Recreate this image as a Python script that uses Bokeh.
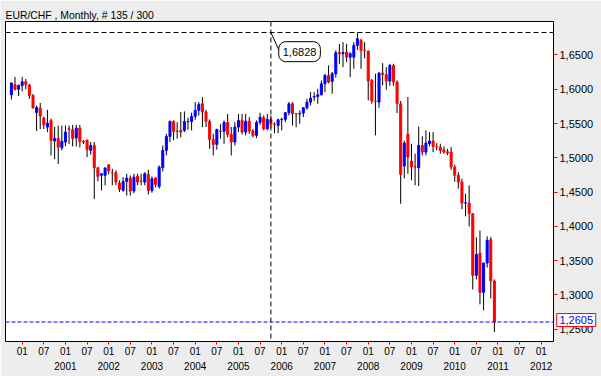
import pandas as pd
from bokeh.plotting import figure
from bokeh.models import (ColumnDataSource, LinearAxis, FixedTicker, CustomJSTickFormatter,
                          Span, Label, Range1d)
from bokeh.core.properties import value
from bokeh.embed import file_html
from bokeh.resources import INLINE

# ---------------- data ----------------
symbol_title = "EUR/CHF , Monthly, # 135 / 300"
start_month = "1999-10"

opens = [1.5920, 1.6070, 1.6000,
         1.6055, 1.6110, 1.6060, 1.5910, 1.5660, 1.5725, 1.5580, 1.5448, 1.5545, 1.5244, 1.5280, 1.5147,
         1.5230, 1.5425, 1.5410, 1.5290, 1.5433, 1.5240, 1.5254, 1.5110, 1.5180, 1.4855, 1.4744, 1.4744,
         1.4899, 1.4785, 1.4782, 1.4632, 1.4525, 1.4656, 1.4704, 1.4515, 1.4729, 1.4660, 1.4646, 1.4758,
         1.4525, 1.4704, 1.4583, 1.4855, 1.5108, 1.5312, 1.5531, 1.5390, 1.5400, 1.5400, 1.5525, 1.5531,
         1.5604, 1.5691, 1.5788, 1.5667, 1.5531, 1.5268, 1.5195, 1.5390, 1.5385, 1.5516, 1.5340, 1.5230,
         1.5448, 1.5545, 1.5375, 1.5530, 1.5390, 1.5327, 1.5516, 1.5584, 1.5424, 1.5560, 1.5490, 1.5472,
         1.5555, 1.5560, 1.5657, 1.5788, 1.5648, 1.5640, 1.5652, 1.5730, 1.5812, 1.5885, 1.5895, 1.5920,
         1.6080, 1.6201, 1.6114, 1.6226, 1.6535, 1.6517, 1.6541, 1.6468, 1.6468, 1.6639, 1.6712, 1.6570,
         1.6556, 1.6128, 1.5827, 1.5813, 1.6235, 1.6216, 1.6119, 1.6347, 1.6104, 1.5788, 1.4880, 1.5342,
         1.4953, 1.4870, 1.4855, 1.5181, 1.5084, 1.5205, 1.5244, 1.5170, 1.5157, 1.5118, 1.5090, 1.5084,
         1.4865, 1.4744, 1.4646, 1.4340, 1.4340, 1.4185, 1.3286, 1.3610, 1.3038, 1.3466, 1.3806, 1.3203]

highs = [1.6100, 1.6180, 1.6070,
         1.6180, 1.6150, 1.6080, 1.5930, 1.5760, 1.5800, 1.5600, 1.5700, 1.5570, 1.5450, 1.5470, 1.5470,
         1.5470, 1.5470, 1.5480, 1.5480, 1.5480, 1.5260, 1.5270, 1.5230, 1.5230, 1.4865, 1.4768, 1.4865,
         1.4905, 1.4840, 1.4816, 1.4670, 1.4719, 1.4768, 1.4743, 1.4768, 1.4768, 1.4768, 1.4790, 1.4826,
         1.4729, 1.4719, 1.4889, 1.5180, 1.5350, 1.5545, 1.5545, 1.5520, 1.5667, 1.5677, 1.5584, 1.5657,
         1.5812, 1.5812, 1.5885, 1.5700, 1.5560, 1.5350, 1.5424, 1.5490, 1.5545, 1.5640, 1.5448, 1.5520,
         1.5640, 1.5640, 1.5640, 1.5594, 1.5420, 1.5545, 1.5657, 1.5618, 1.5640, 1.5618, 1.5520, 1.5570,
         1.5584, 1.5670, 1.5812, 1.5812, 1.5652, 1.5690, 1.5740, 1.5860, 1.5958, 1.5958, 1.6007, 1.6128,
         1.6225, 1.6347, 1.6250, 1.6566, 1.6660, 1.6687, 1.6663, 1.6541, 1.6687, 1.6828, 1.6736, 1.6687,
         1.6566, 1.6150, 1.6226, 1.6250, 1.6380, 1.6323, 1.6371, 1.6371, 1.6128, 1.5830, 1.5250, 1.5886,
         1.5205, 1.5060, 1.5458, 1.5312, 1.5400, 1.5375, 1.5375, 1.5215, 1.5205, 1.5166, 1.5130, 1.5157,
         1.4900, 1.4790, 1.4694, 1.4476, 1.4598, 1.4185, 1.3840, 1.3940, 1.3466, 1.3854, 1.3845, 1.3227]

lows = [1.5850, 1.5980, 1.5900,
        1.5970, 1.6000, 1.5860, 1.5715, 1.5390, 1.5420, 1.5420, 1.5375, 1.5035, 1.4980, 1.4910, 1.5110,
        1.5170, 1.5200, 1.5166, 1.5166, 1.5150, 1.5200, 1.5010, 1.5045, 1.4400, 1.4656, 1.4525, 1.4598,
        1.4760, 1.4600, 1.4600, 1.4500, 1.4505, 1.4450, 1.4450, 1.4481, 1.4600, 1.4600, 1.4600, 1.4466,
        1.4490, 1.4570, 1.4550, 1.4800, 1.5035, 1.5230, 1.5255, 1.5280, 1.5300, 1.5375, 1.5410, 1.5400,
        1.5555, 1.5618, 1.5448, 1.5448, 1.5130, 1.5035, 1.5118, 1.5280, 1.5205, 1.5300, 1.5035, 1.5180,
        1.5375, 1.5340, 1.5327, 1.5350, 1.5300, 1.5288, 1.5480, 1.5400, 1.5400, 1.5440, 1.5360, 1.5360,
        1.5400, 1.5520, 1.5618, 1.5470, 1.5448, 1.5497, 1.5594, 1.5700, 1.5764, 1.5827, 1.5788, 1.5910,
        1.5958, 1.6085, 1.5934, 1.6170, 1.6371, 1.6323, 1.6395, 1.6177, 1.6298, 1.6575, 1.6298, 1.6450,
        1.5837, 1.5788, 1.5327, 1.5730, 1.6056, 1.5992, 1.6050, 1.6050, 1.5652, 1.4330, 1.4700, 1.4768,
        1.4671, 1.4600, 1.4588, 1.5035, 1.5035, 1.5166, 1.5084, 1.5110, 1.5060, 1.5060, 1.5040, 1.4826,
        1.4650, 1.4550, 1.4250, 1.4146, 1.4000, 1.3080, 1.3227, 1.2863, 1.2776, 1.3400, 1.2950, 1.2460]

closes = [1.6090, 1.6000, 1.6055,
          1.6110, 1.6070, 1.5910, 1.5730, 1.5735, 1.5610, 1.5480, 1.5506, 1.5254, 1.5283, 1.5157, 1.5240,
          1.5375, 1.5414, 1.5280, 1.5433, 1.5234, 1.5230, 1.5120, 1.5180, 1.4855, 1.4729, 1.4768, 1.4850,
          1.4807, 1.4782, 1.4646, 1.4540, 1.4656, 1.4704, 1.4515, 1.4719, 1.4646, 1.4656, 1.4768, 1.4525,
          1.4695, 1.4612, 1.4865, 1.5108, 1.5312, 1.5531, 1.5385, 1.5385, 1.5375, 1.5531, 1.5531, 1.5604,
          1.5691, 1.5778, 1.5667, 1.5531, 1.5268, 1.5195, 1.5414, 1.5385, 1.5516, 1.5340, 1.5230, 1.5448,
          1.5545, 1.5375, 1.5535, 1.5390, 1.5327, 1.5516, 1.5594, 1.5424, 1.5560, 1.5487, 1.5487, 1.5555,
          1.5560, 1.5657, 1.5788, 1.5643, 1.5643, 1.5648, 1.5730, 1.5812, 1.5870, 1.5895, 1.5920, 1.6080,
          1.6201, 1.6104, 1.6225, 1.6532, 1.6517, 1.6537, 1.6468, 1.6517, 1.6639, 1.6736, 1.6566, 1.6566,
          1.6119, 1.5827, 1.5822, 1.6235, 1.6216, 1.6119, 1.6347, 1.6104, 1.5788, 1.4758, 1.5215, 1.5011,
          1.4865, 1.4865, 1.5181, 1.5084, 1.5215, 1.5244, 1.5166, 1.5166, 1.5108, 1.5084, 1.5070, 1.4865,
          1.4744, 1.4646, 1.4340, 1.4345, 1.4185, 1.3286, 1.3590, 1.3038, 1.3466, 1.3796, 1.3203, 1.2605]

price_ticks = [1.25, 1.30, 1.35, 1.40, 1.45, 1.50, 1.55, 1.60, 1.65]
halfyear_labels = ["01", "07"] * 12 + ["01"]          # Jan 2000 ... Jan 2012
year_labels = ["2001", "2002", "2003", "2004", "2005", "2006",
               "2007", "2008", "2009", "2010", "2011", "2012"]

marker_month = "2005-10"
marker_price = 1.6828
marker_text = "1,6828"
last_price = 1.2605
last_text = "1,2605"

# ---------------- derived ----------------
base_year = 2000
months = pd.period_range(start_month, periods=len(opens), freq="M")
idx = [(p.year - base_year) * 12 + (p.month - 1) for p in months]
tops = [max(o, c) for o, c in zip(opens, closes)]
bottoms = [min(o, c) for o, c in zip(opens, closes)]
colors = ["#0000FF" if c >= o else "#FF0000" for o, c in zip(opens, closes)]

src = ColumnDataSource(dict(x=idx, open=opens, high=highs, low=lows, close=closes,
                            top=tops, bottom=bottoms, color=colors))

mp = pd.Period(marker_month, freq="M")
marker_idx = (mp.year - base_year) * 12 + (mp.month - 1)

FONT = "Liberation Sans"
BG = "#EDEDED"
X_LO, X_HI = -4.63, 147.4

p = figure(width=601, height=376, output_backend="svg", toolbar_location=None,
           x_axis_location=None, y_axis_location=None,
           x_range=Range1d(X_LO, X_HI), y_range=Range1d(1.2321, 1.6988),
           min_border_left=5, min_border_right=48, min_border_top=21, min_border_bottom=35,
           background_fill_color="white", border_fill_color=BG,
           outline_line_color="black", outline_line_width=1)
p.grid.visible = False

p.title.text = symbol_title
p.title.align = "left"
p.title.text_font = FONT
p.title.text_font_size = "10.4px"
p.title.text_font_style = "normal"
p.title.text_color = "black"
p.title.standoff = 2

# price axis (right)
yax = LinearAxis(ticker=FixedTicker(ticks=price_ticks),
                 formatter=CustomJSTickFormatter(code="return tick.toFixed(4).replace('.', ',');"))
yax.axis_line_color = None
yax.major_tick_line_color = "red"
yax.major_tick_out = 4
yax.major_tick_in = 0
yax.minor_tick_line_color = None
yax.major_label_standoff = 2
yax.major_label_text_font = FONT
yax.major_label_text_font_size = "11px"
yax.major_label_text_color = "black"
p.add_layout(yax, "right")

# month axis (below)
half_ticks = list(range(0, 6 * len(halfyear_labels), 6))
xax1 = LinearAxis(ticker=FixedTicker(ticks=half_ticks),
                  major_label_overrides={t: l for t, l in zip(half_ticks, halfyear_labels)})
xax1.axis_line_color = None
xax1.major_tick_line_color = "red"
xax1.major_tick_out = 3
xax1.major_tick_in = 0
xax1.minor_tick_line_color = None
xax1.major_label_standoff = 2
xax1.major_label_text_font = FONT
xax1.major_label_text_font_size = "10px"
xax1.major_label_text_color = "black"
p.add_layout(xax1, "below")

year_ticks = [12 * (i + 1) for i in range(len(year_labels))]
xax2 = LinearAxis(ticker=FixedTicker(ticks=year_ticks),
                  major_label_overrides={t: l for t, l in zip(year_ticks, year_labels)})
xax2.axis_line_color = None
xax2.major_tick_line_color = None
xax2.major_tick_out = 0
xax2.major_tick_in = 0
xax2.minor_tick_line_color = None
xax2.major_label_standoff = 4
xax2.major_label_text_font = FONT
xax2.major_label_text_font_size = "10px"
xax2.major_label_text_color = "black"
p.add_layout(xax2, "below")

# candles
p.segment(x0="x", y0="low", x1="x", y1="high", source=src, line_color="black", line_width=1)
p.vbar(x="x", width=0.56, top="top", bottom="bottom", source=src,
       fill_color="color", line_color="color", line_width=1)

# crosshair / levels
p.add_layout(Span(location=marker_price, dimension="width", line_color="black",
                  line_dash="5 3", line_width=1))
p.add_layout(Span(location=marker_idx, dimension="height", line_color="black",
                  line_dash="5 3", line_width=1))
p.add_layout(Span(location=last_price, dimension="width", line_color="blue",
                  line_dash="4 2", line_width=1))

# callout
p.segment(x0=[marker_idx], y0=[marker_price], x1=[marker_idx + 2.3], y1=[marker_price - 0.0265],
          line_color="black", line_width=1)
p.add_layout(Label(x=marker_idx + 7.95, y=marker_price - 0.0280, text=marker_text,
                   text_align="center", text_baseline="middle",
                   text_font=FONT, text_font_size="11px", text_color="black",
                   background_fill_color="white", border_line_color="black",
                   border_line_width=1, padding=(4, 6), border_radius=7))

# last price tag on the price scale (drawn at overlay level, outside the frame)
tag_x = X_HI + 6.3
p.rect(x=[tag_x], y=[last_price + 0.0029], width=39, height=13,
       width_units="screen", height_units="screen",
       fill_color="white", line_color="red", line_width=1, level="overlay")
p.text(x=[tag_x], y=[last_price + 0.0029], text=[last_text],
       text_align="center", text_baseline="middle",
       text_font=value(FONT), text_font_size="11px", text_color="blue", level="overlay")

open("out.html", "w").write(file_html(p, INLINE))
